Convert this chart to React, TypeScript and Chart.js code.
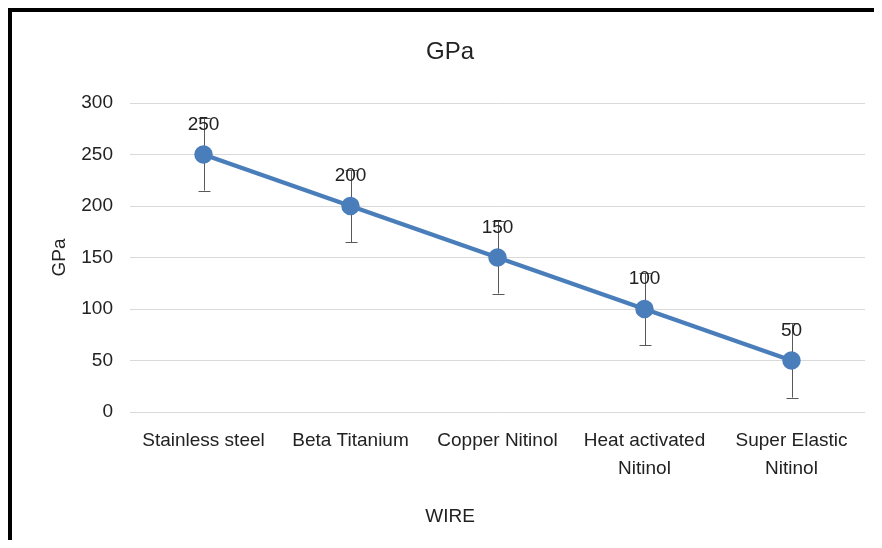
import React, { useEffect, useRef } from "react";
import { Chart, registerables } from "chart.js";

Chart.register(...registerables);

const categories: string[][] = [
  ["Stainless steel"],
  ["Beta Titanium"],
  ["Copper Nitinol"],
  ["Heat activated", "Nitinol"],
  ["Super Elastic", "Nitinol"],
];
const values: number[] = [250, 200, 150, 100, 50];
const errors: number[] = [35, 35, 35, 35, 36];
const yTicks: number[] = [0, 50, 100, 150, 200, 250, 300];

const FONT = "'Liberation Sans', Arial, sans-serif";
const TEXT = "#222222";

const overlayPlugin = {
  id: "overlay",
  beforeDatasetsDraw(chart: any) {
    const ctx = chart.ctx;
    const meta = chart.getDatasetMeta(0);
    const y = chart.scales.y;
    ctx.save();
    ctx.strokeStyle = "#595959";
    ctx.lineWidth = 1;
    meta.data.forEach((pt: any, i: number) => {
      const x = Math.round(pt.x) + 0.5;
      const top = y.getPixelForValue(values[i] + errors[i]);
      const bot = y.getPixelForValue(values[i] - errors[i]);
      ctx.beginPath();
      ctx.moveTo(x, top);
      ctx.lineTo(x, bot);
      ctx.moveTo(x - 6, Math.round(top) + 0.5);
      ctx.lineTo(x + 6, Math.round(top) + 0.5);
      ctx.moveTo(x - 6, Math.round(bot) + 0.5);
      ctx.lineTo(x + 6, Math.round(bot) + 0.5);
      ctx.stroke();
    });
    ctx.restore();
  },
  afterDatasetsDraw(chart: any) {
    const ctx = chart.ctx;
    const meta = chart.getDatasetMeta(0);
    ctx.save();
    ctx.fillStyle = TEXT;
    ctx.font = `19px ${FONT}`;
    ctx.textAlign = "center";
    ctx.textBaseline = "middle";
    meta.data.forEach((pt: any, i: number) => {
      ctx.fillText(String(values[i]), pt.x, pt.y - 30);
    });
    ctx.restore();
  },
};

export default function App() {
  const ref = useRef<HTMLCanvasElement>(null);
  useEffect(() => {
    if (!ref.current) return;
    const chart = new Chart(ref.current, {
      type: "line",
      data: {
        labels: categories,
        datasets: [
          {
            label: "GPa",
            data: values,
            borderColor: "#4a7ebb",
            backgroundColor: "#4a7ebb",
            borderWidth: 4.5,
            pointRadius: 7,
            pointBackgroundColor: "#4a7ebb",
            pointBorderColor: "#4a7ebb",
            tension: 0,
          },
        ],
      },
      options: {
        responsive: false,
        animation: false,
        layout: { padding: { left: 23, right: 17, top: 0, bottom: 0 } },
        plugins: {
          legend: { display: false },
          tooltip: { enabled: false },
          title: {
            display: true,
            text: "GPa",
            color: TEXT,
            font: { family: FONT, size: 24, weight: "normal" },
            padding: { top: 25.6, bottom: 36.6 },
          },
          subtitle: {
            display: true,
            position: "bottom",
            text: "WIRE",
            color: TEXT,
            font: { family: FONT, size: 19, weight: "normal" },
            padding: { top: 22.6, bottom: 11.6 },
          },
        },
        scales: {
          x: {
            offset: true,
            grid: { display: false, drawTicks: false },
            border: { display: false },
            ticks: {
              color: TEXT,
              font: { family: FONT, size: 19, lineHeight: 28 / 19 },
              padding: 15,
              maxRotation: 0,
              autoSkip: false,
            },
            afterFit(scale: any) {
              scale.height = 71;
            },
          },
          y: {
            min: 0,
            max: 300,
            afterBuildTicks(scale: any) {
              scale.ticks = yTicks.map((v) => ({ value: v }));
            },
            grid: { color: "#d9d9d9", lineWidth: 1, drawTicks: false },
            border: { display: false },
            ticks: {
              color: TEXT,
              font: { family: FONT, size: 19 },
              padding: 17,
            },
            title: {
              display: true,
              text: "GPa",
              color: TEXT,
              font: { family: FONT, size: 19, weight: "normal" },
              padding: { top: 13.6, bottom: 0 },
            },
            afterFit(scale: any) {
              scale.width = 95;
            },
          },
        },
      },
      plugins: [overlayPlugin],
    });
    return () => chart.destroy();
  }, []);
  return (
    <div
      style={{
        borderLeft: "4px solid #000",
        borderTop: "4px solid #000",
        width: 870,
        height: 528,
        background: "#fff",
      }}
    >
      <canvas ref={ref} width={870} height={528} style={{ display: "block" }} />
    </div>
  );
}
